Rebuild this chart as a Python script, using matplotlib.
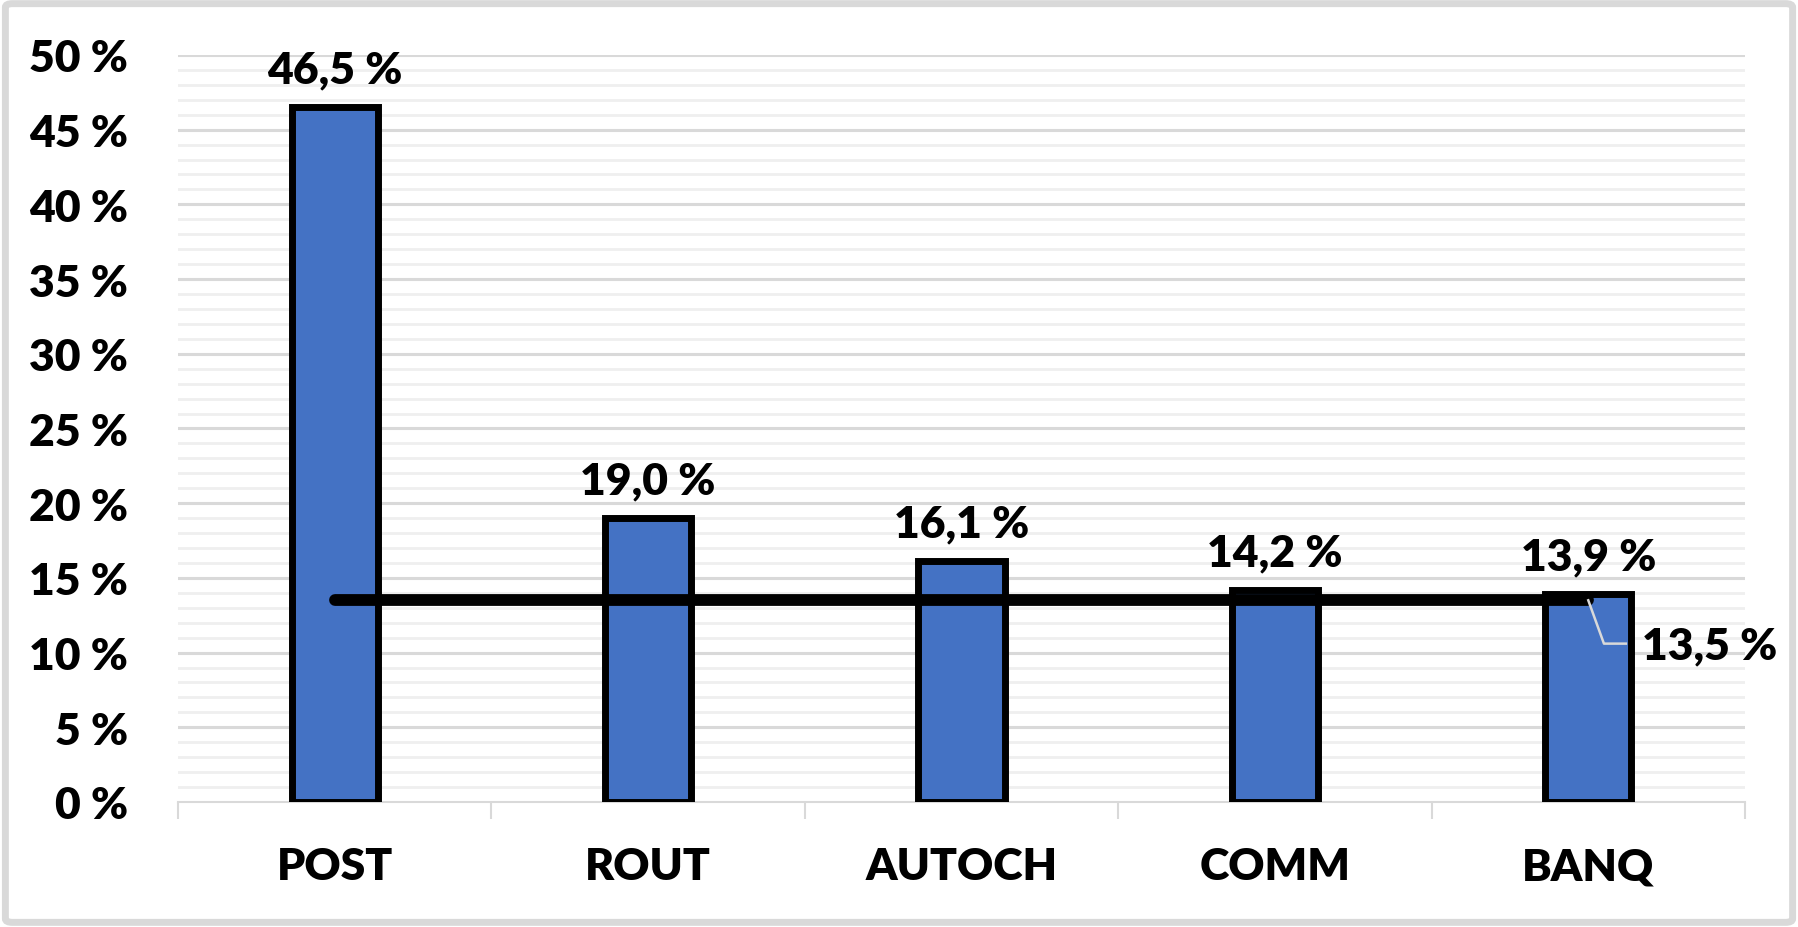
import numpy as np
import matplotlib.pyplot as plt
from matplotlib.patches import FancyBboxPatch

# Data
categories = ['POST', 'ROUT', 'AUTOCH', 'COMM', 'BANQ']
values = [46.5, 19.0, 16.1, 14.2, 13.9]
average = 13.5
y_ticks = [0, 5, 10, 15, 20, 25, 30, 35, 40, 45, 50]

plt.rcParams['font.family'] = ['Lato', 'DejaVu Sans']
FW = 'heavy'
FS = 32

fig = plt.figure(figsize=(17.98, 9.28), dpi=100)
ax = fig.add_axes([0.099, 0.1347, 0.8715, 0.805])

x = np.arange(len(categories))

# grid: light minor lines every 1 %, darker every 5 %
for v in np.arange(0, 51, 1):
    if v % 5 == 0:
        continue
    ax.axhline(v, color='#efefef', lw=2, zorder=0)
for v in y_ticks[1:]:
    ax.axhline(v, color='#d9d9d9', lw=2.2, zorder=0)

# bars
ax.bar(x, values, width=0.275, color='#4472C4', edgecolor='black',
       linewidth=5, zorder=3)

# average line
ax.plot([x[0], x[-1]], [average, average], color='black', lw=8.5,
        solid_capstyle='round', zorder=4)

# bar labels
for xi, v in zip(x, values):
    ax.text(xi, v + 1.2, f'{v:.1f} %'.replace('.', ','), ha='center',
            va='bottom', fontsize=FS, fontweight=FW, zorder=5)

# leader line + average label
ax.plot([x[-1], x[-1] + 0.05, x[-1] + 0.12], [average, 10.6, 10.6],
        color='#d9d9d9', lw=1.8, zorder=5)
ax.text(x[-1] + 0.17, 10.5, f'{average:.1f} %'.replace('.', ','),
        ha='left', va='center', fontsize=FS, fontweight=FW, zorder=5)

ax.set_xlim(-0.5, len(categories) - 0.5)
ax.set_ylim(0, 50)
ax.set_yticks(y_ticks)
ax.set_yticklabels([f'{t} %' for t in y_ticks], fontsize=FS, fontweight=FW)
ax.set_xticks(x)
ax.set_xticklabels(categories, fontsize=FS, fontweight=FW)
ax.tick_params(axis='y', length=0, pad=36)
ax.tick_params(axis='x', which='major', length=0, pad=32)
ax.set_xticks(np.arange(-0.5, len(categories), 1), minor=True)
ax.tick_params(axis='x', which='minor', length=12, width=1.5, color='#d9d9d9')

for s in ['top', 'right', 'left']:
    ax.spines[s].set_visible(False)
ax.spines['bottom'].set_color('#d9d9d9')
ax.spines['bottom'].set_linewidth(1.5)
ax.spines['bottom'].set_zorder(2)

# outer frame
frame = FancyBboxPatch((0.003, 0.005), 0.994, 0.99,
                       boxstyle='round,pad=0,rounding_size=0.004',
                       transform=fig.transFigure, fill=False,
                       edgecolor='#d9d9d9', linewidth=5)
fig.patches.append(frame)

fig.savefig('out.png', dpi=100)
